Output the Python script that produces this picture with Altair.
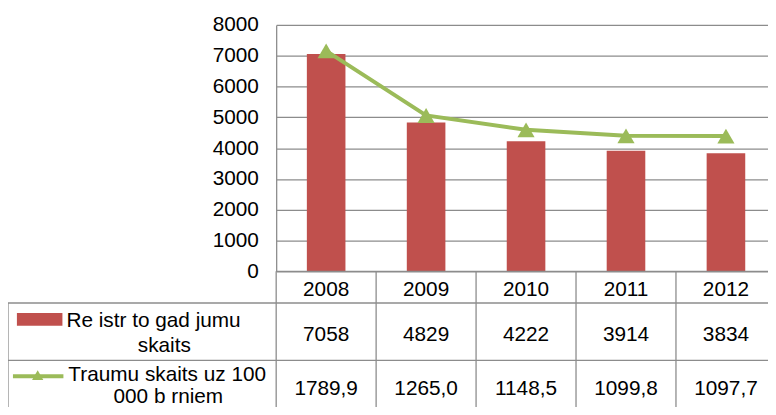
import altair as alt
import pandas as pd

years = ["2008", "2009", "2010", "2011", "2012"]
registered = [7058, 4829, 4222, 3914, 3834]
injury_rate = [1789.9, 1265.0, 1148.5, 1099.8, 1097.7]
y_ticks = [0, 1000, 2000, 3000, 4000, 5000, 6000, 7000, 8000]
series1_lines = ["Re istr to gad jumu", "skaits"]
series2_lines = ["Traumu skaits uz 100", "000 b rniem"]

RED = "#C0504D"
GREEN = "#9BBB59"
GRID = "#8c8c8c"
FONT = "Liberation Sans"
FS = 21

df = pd.DataFrame({
    "year": years,
    "registered": registered,
    "rate": injury_rate,
    "rate_label": [f"{v:.1f}".replace(".", ",") for v in injury_rate],
})
one = pd.DataFrame({"k": [0]})

xscale = alt.Scale(type="band", range=[0, 505], paddingInner=0, paddingOuter=0)
X = alt.X("year:N", scale=xscale, axis=None)

bars = alt.Chart(df).mark_bar(color=RED, size=39).encode(
    x=X,
    y=alt.Y("registered:Q", scale=alt.Scale(domain=[0, 8000], range=[249, 0]),
            axis=alt.Axis(values=y_ticks, format="d", grid=True, gridColor=GRID, gridWidth=1.3,
                          domainColor=GRID, domainWidth=1.3, tickSize=0, labelPadding=18,
                          labelFont=FONT, labelFontSize=FS, labelColor="black", title=None)),
)

ry = alt.Y("rate:Q", scale=alt.Scale(domain=[0, 2000], range=[249, 0]), axis=None)
line = alt.Chart(df).mark_line(color=GREEN, strokeWidth=4).encode(x=X, y=ry)
pts = alt.Chart(df).mark_point(shape="triangle-up", filled=True, size=300,
                               color=GREEN, opacity=1).encode(x=X, y=ry)

def hrule(y, x0, x1):
    return alt.Chart(one).mark_rule(color=GRID, strokeWidth=1.3).encode(
        x=alt.value(x0), x2=alt.value(x1), y=alt.value(y))

def vrule(x, y0, y1):
    return alt.Chart(one).mark_rule(color=GRID, strokeWidth=1.3).encode(
        x=alt.value(x), y=alt.value(y0), y2=alt.value(y1))

band_rules = alt.Chart(df).mark_rule(color=GRID, strokeWidth=1.3).encode(
    x=alt.X("year:N", scale=xscale, axis=None, bandPosition=0),
    y=alt.value(249), y2=alt.value(400),
)

def cell_text(field, y):
    return alt.Chart(df).mark_text(font=FONT, fontSize=FS, color="black",
                                   baseline="middle").encode(
        x=X, y=alt.value(y), text=f"{field}:N")

year_txt = cell_text("year", 268)
reg_txt = cell_text("registered", 313.5)
rate_txt = cell_text("rate_label", 368)

def label(text, x, y, align):
    return alt.Chart(one).mark_text(text=text, font=FONT, fontSize=FS, color="black",
                                    align=align, baseline="middle").encode(
        x=alt.value(x), y=alt.value(y))

swatch = alt.Chart(one).mark_rect(color=RED).encode(
    x=alt.value(-262), x2=alt.value(-216), y=alt.value(291), y2=alt.value(304))
leg_line = alt.Chart(one).mark_rule(color=GREEN, strokeWidth=4).encode(
    x=alt.value(-266), x2=alt.value(-215), y=alt.value(355))
leg_tri = alt.Chart(one).mark_point(shape="triangle-up", filled=True, size=130,
                                    color=GREEN, opacity=1).encode(
    x=alt.value(-241), y=alt.value(354))

chart = alt.layer(
    bars, line, pts,
    hrule(249, 0, 505), hrule(281, -271, 505), hrule(339, -271, 505),
    vrule(-271, 281, 400), band_rules,
    year_txt, reg_txt, rate_txt,
    swatch, leg_line, leg_tri,
    label(series1_lines[0], -212, 299, "left"),
    label(series1_lines[1], -113, 325, "center"),
    label(series2_lines[0], -210, 354, "left"),
    label(series2_lines[1], -109, 376, "center"),
).resolve_scale(y="independent").properties(
    width=497, height=384,
    padding={"left": 271, "top": 15, "right": 0, "bottom": 0},
    autosize=alt.AutoSizeParams(type="none"),
).configure_view(stroke=None)

chart.save("out.html", embed_options={"renderer": "svg", "actions": False})
